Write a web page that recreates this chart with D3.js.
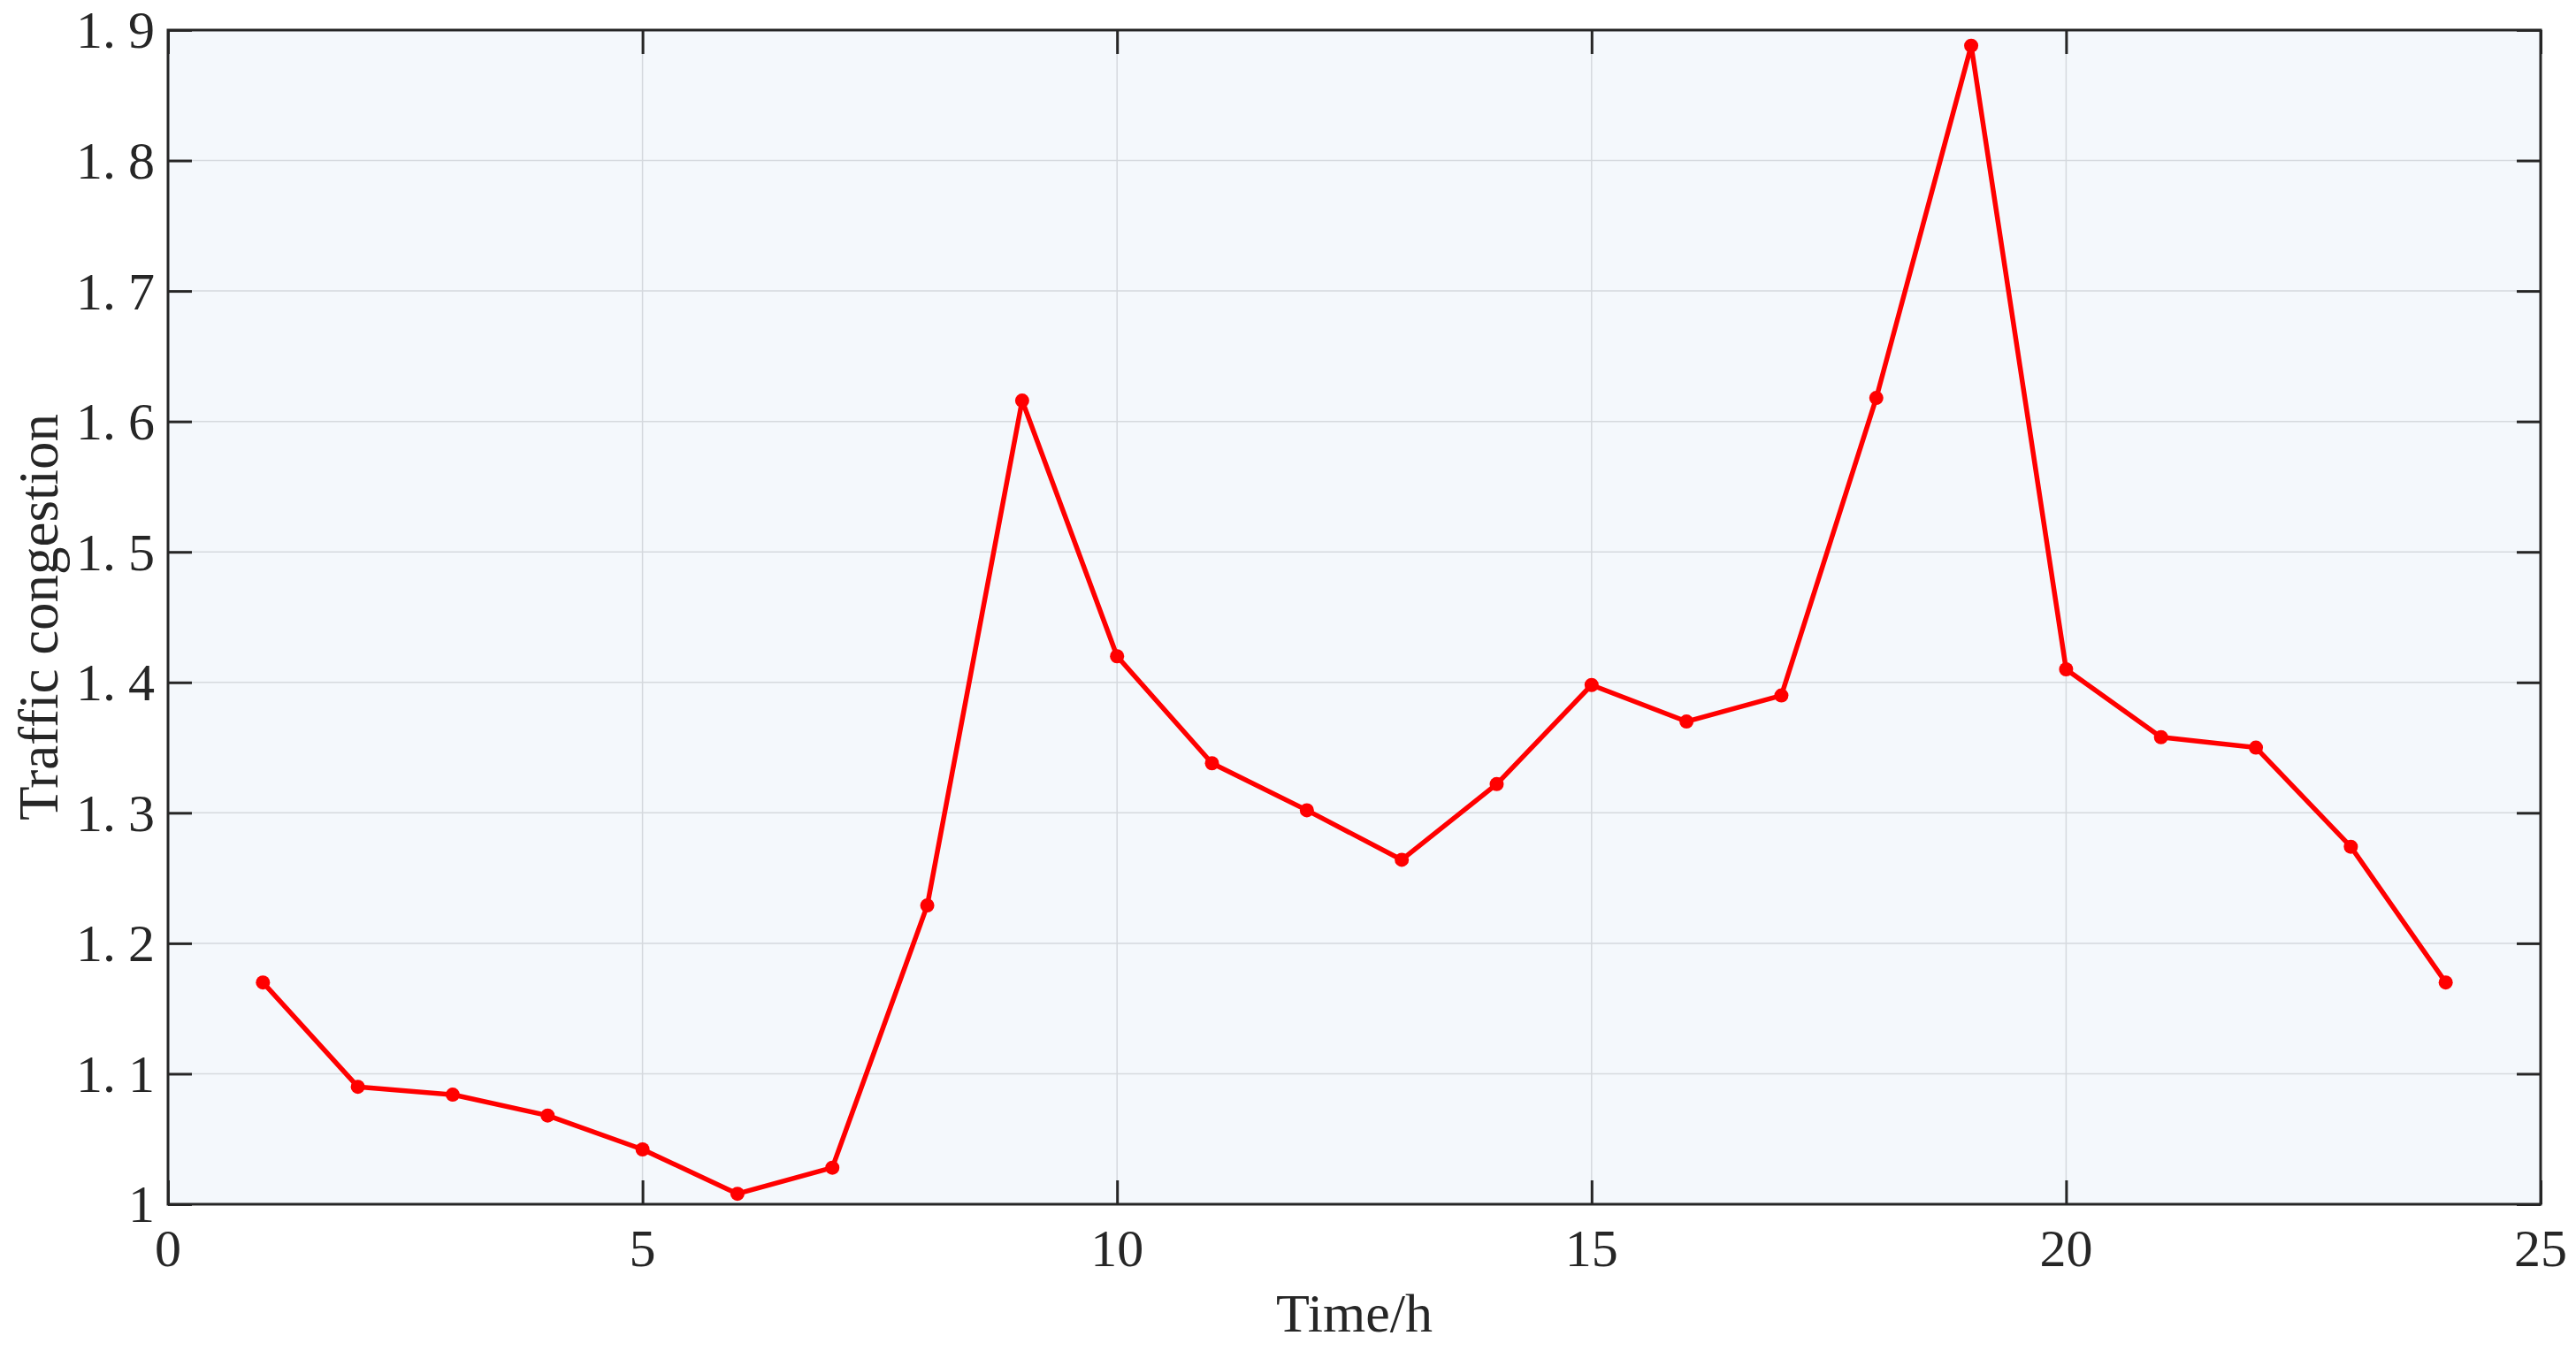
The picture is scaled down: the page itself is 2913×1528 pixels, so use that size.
<!DOCTYPE html>
<html>
<head>
<meta charset="utf-8">
<script src="https://cdn.jsdelivr.net/npm/d3@7/dist/d3.min.js"></script>
<style>
  html, body { margin: 0; padding: 0; background: #ffffff; }
  svg { display: block; }
  text { font-family: "Liberation Serif", "Times New Roman", serif; fill: #262626; }
</style>
</head>
<body>
<svg id="chart" width="2913" height="1528"></svg>
<script>
// ---- data ----
const hours = [1, 2, 3, 4, 5, 6, 7, 8, 9, 10, 11, 12, 13, 14, 15, 16, 17, 18, 19, 20, 21, 22, 23, 24];
const congestion = [1.170, 1.090, 1.084, 1.068, 1.042, 1.008, 1.028, 1.229, 1.616, 1.420, 1.338, 1.302,
                    1.264, 1.322, 1.398, 1.370, 1.390, 1.618, 1.888, 1.410, 1.358, 1.350, 1.274, 1.170];
const xTicks = [0, 5, 10, 15, 20, 25];
const yTicks = [1.0, 1.1, 1.2, 1.3, 1.4, 1.5, 1.6, 1.7, 1.8, 1.9];
const xLabel = "Time/h";
const yLabel = "Traffic congestion";

// ---- layout ----
const W = 2913, H = 1528;
const margin = { left: 190, top: 34, right: 40, bottom: 166 };
const iw = W - margin.left - margin.right;
const ih = H - margin.top - margin.bottom;
const ink = "#262626";

const svg = d3.select("#chart");
const g = svg.append("g").attr("transform", `translate(${margin.left},${margin.top})`);

const x = d3.scaleLinear().domain([0, 25]).range([0, iw]);
const y = d3.scaleLinear().domain([1.0, 1.9]).range([ih, 0]);

// background
g.append("rect").attr("width", iw).attr("height", ih).attr("fill", "#F4F8FC");

// grid
g.append("g").selectAll("line").data(xTicks.slice(1, -1)).join("line")
  .attr("x1", d => x(d)).attr("x2", d => x(d)).attr("y1", 0).attr("y2", ih)
  .attr("stroke", "#D5D9DE").attr("stroke-width", 1.5);
g.append("g").selectAll("line").data(yTicks.slice(1, -1)).join("line")
  .attr("y1", d => y(d)).attr("y2", d => y(d)).attr("x1", 0).attr("x2", iw)
  .attr("stroke", "#D5D9DE").attr("stroke-width", 1.5);

// axes ticks (inward, mirrored)
const tl = 27;
function styleAxis(sel) {
  sel.select(".domain").remove();
  sel.selectAll(".tick line").attr("stroke", ink).attr("stroke-width", 3);
  sel.selectAll(".tick text").remove();
}
g.append("g").attr("transform", `translate(0,${ih})`)
  .call(d3.axisBottom(x).tickValues(xTicks).tickSize(-tl)).call(styleAxis);
g.append("g")
  .call(d3.axisTop(x).tickValues(xTicks).tickSize(-tl)).call(styleAxis);
g.append("g")
  .call(d3.axisLeft(y).tickValues(yTicks).tickSize(-tl)).call(styleAxis);
g.append("g").attr("transform", `translate(${iw},0)`)
  .call(d3.axisRight(y).tickValues(yTicks).tickSize(-tl)).call(styleAxis);

// frame
g.append("rect").attr("width", iw).attr("height", ih)
  .attr("fill", "none").attr("stroke", ink).attr("stroke-width", 3);

// tick labels
g.append("g").selectAll("text").data(xTicks).join("text")
  .attr("x", d => x(d)).attr("y", ih + 70)
  .attr("text-anchor", "middle").attr("font-size", 60)
  .text(d => d3.format("d")(d));

const yl = g.append("g").selectAll("text").data(yTicks).join("text")
  .attr("x", -15).attr("y", d => y(d)).attr("dy", "0.34em")
  .attr("text-anchor", "end").attr("font-size", 60);
yl.each(function(d) {
  const s = d === 1 ? "1" : d3.format(".1f")(d);
  const t = d3.select(this);
  if (s.length === 1) { t.text(s); }
  else {
    t.append("tspan").text(s.slice(0, 2));
    t.append("tspan").attr("dx", 14).text(s.slice(2));
  }
});

// axis titles
svg.append("text")
  .attr("x", margin.left + iw / 2).attr("y", 1506)
  .attr("text-anchor", "middle").attr("font-size", 62)
  .text(xLabel);
svg.append("text")
  .attr("transform", `translate(65,${margin.top + ih / 2}) rotate(-90)`)
  .attr("text-anchor", "middle").attr("font-size", 63)
  .text(yLabel);

// series
const data = hours.map((h, i) => ({ h, v: congestion[i] }));
g.append("path").datum(data)
  .attr("fill", "none").attr("stroke", "#FF0000").attr("stroke-width", 5.5)
  .attr("stroke-linejoin", "round")
  .attr("d", d3.line().x(d => x(d.h)).y(d => y(d.v)));
g.append("g").selectAll("circle").data(data).join("circle")
  .attr("cx", d => x(d.h)).attr("cy", d => y(d.v)).attr("r", 8)
  .attr("fill", "#FF0000");
</script>
</body>
</html>
